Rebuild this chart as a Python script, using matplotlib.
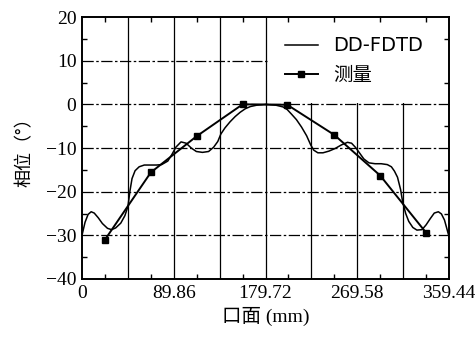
import numpy as np
import matplotlib
matplotlib.use("Agg")
import matplotlib.pyplot as plt
from matplotlib.patches import Rectangle

# --- data ---
fdtd_x = [0, 3, 6, 9, 12, 16, 20, 25, 29, 33, 38, 42, 45, 47, 49, 52, 56, 61, 67, 73,
          78, 84, 88, 92, 97, 102, 107, 112, 118, 124, 129, 133, 136, 140, 145, 150,
          155, 160, 165, 171, 180, 190, 197, 201, 205, 210, 215, 220, 224, 227, 231,
          236, 242, 248, 254, 260, 264, 268, 272, 276, 281, 287, 293, 299, 303, 306,
          309, 312, 314, 317, 320, 324, 328, 333, 337, 341, 345, 349, 352, 355, 357,
          359.44]
fdtd_y = [-30, -27, -25.2, -24.6, -24.9, -26, -27.3, -28.4, -28.7, -28.3, -27.2, -25.5,
          -23.4, -19.8, -17, -15.2, -14.3, -13.9, -13.9, -13.9, -13.8, -13, -11.5, -9.8,
          -8.6, -8.9, -10, -10.8, -11, -10.8, -9.8, -8.5, -6.8, -5.4, -4, -2.8, -1.8,
          -1, -0.5, -0.2, 0, -0.2, -0.6, -1.2, -2.2, -3.5, -5.2, -7.2, -9.3, -10.5,
          -11.1, -11.1, -10.7, -10.1, -9.3, -8.7, -8.9, -9.9, -11.2, -12.5, -13.4,
          -13.6, -13.6, -13.8, -14.3, -15.3, -16.7, -19.5, -22.3, -25, -26.8, -28.2,
          -28.8, -28.7, -27.6, -26.2, -24.9, -24.6, -25.1, -26.5, -28.2, -30.3]

meas_x = [22.5, 67.4, 112.3, 157.3, 201.0, 247.1, 292.0, 337.0]
meas_y = [-31.0, -15.6, -7.3, 0.0, -0.1, -7.0, -16.3, -29.4]

grid_x = [0, 44.93, 89.86, 134.79, 179.72, 224.65, 269.58, 314.51, 359.44]
xtick_labels = ["0", "", "89.86", "", "179.72", "", "269.58", "", "359.44"]
minor_x = [22.465, 67.395, 112.325, 157.255, 202.185, 247.115, 292.045, 336.975]
yticks = [-40, -30, -20, -10, 0, 10, 20]

SERIF = ["Liberation Serif", "Noto Sans CJK SC"]
CJK = ["Noto Sans CJK SC", "DejaVu Sans"]

fig = plt.figure(figsize=(4.75, 3.43), dpi=100)
ax = fig.add_axes([0.1726, 0.1866, 0.7727, 0.7638])

# grid
for gx in grid_x[1:-1]:
    ax.axvline(gx, color="black", lw=0.9, zorder=1)
for gy in yticks[1:-1]:
    ax.axhline(gy, color="black", lw=0.9, ls=(0, (9, 2, 2, 2)), zorder=1)

# white area behind legend
ax.add_patch(Rectangle((0.506, 0.672), 0.494, 0.328, transform=ax.transAxes,
                       facecolor="white", edgecolor="none", zorder=1.5))

ax.plot(fdtd_x, fdtd_y, color="black", lw=1.1, zorder=3, label="DD-FDTD")
ax.plot(meas_x, meas_y, color="black", lw=1.4, marker="s", ms=4.5, zorder=4,
        label="测量")

ax.set_xlim(0, 359.44)
ax.set_ylim(-40, 20)
ax.set_xticks(grid_x)
ax.set_xticklabels(xtick_labels)
ax.set_xticks(minor_x, minor=True)
ax.set_yticks(yticks)
ax.set_yticks(list(range(-35, 20, 10)), minor=True)
ax.tick_params(which="both", direction="in", top=True, right=True, width=1.0)
ax.tick_params(which="major", length=0, pad=4)
ax.tick_params(which="minor", length=3.5)
for lab in ax.get_xticklabels() + ax.get_yticklabels():
    lab.set_family(SERIF)
    lab.set_fontsize(14)
for sp in ax.spines.values():
    sp.set_linewidth(1.4)

ax.set_xlabel("口面 (mm)", family=SERIF, fontsize=14, labelpad=4)
ax.set_ylabel("相位（°）", family=CJK, fontsize=13, labelpad=9)

leg = ax.legend(loc="upper left", bbox_to_anchor=(0.5, 1.0), frameon=False,
                handlelength=1.7, handletextpad=0.8, labelspacing=0.55,
                borderpad=0.5, prop={"family": ["DejaVu Sans", "Noto Sans CJK SC"],
                                     "size": 14})
leg.set_zorder(6)

fig.savefig("out.png", dpi=100)
